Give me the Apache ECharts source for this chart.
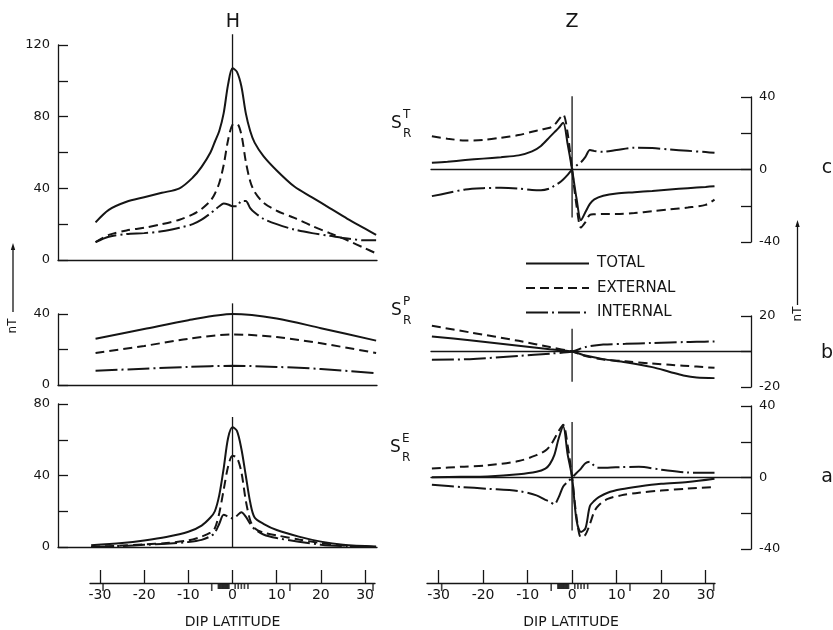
<!DOCTYPE html>
<html>
<head>
<meta charset="utf-8">
<script src="https://cdn.jsdelivr.net/npm/echarts@6/dist/echarts.min.js"></script>
<style>
html, body { margin: 0; padding: 0; background: #fff; }
#chart { width: 833px; height: 630px; }
</style>
</head>
<body>
<div id="chart"></div>
<script>
// ---- data (nT against dip latitude, degrees) ----
// H component, S_R^T
const latTL = [-31, -28, -24, -20, -16, -12, -9, -7, -5, -4, -3, -2, -1, 0, 1, 2, 3, 4, 5, 7, 10, 14, 18, 22, 26, 30, 32.5];
const totTL = [21, 28, 32.5, 35, 37.5, 40, 46, 52, 60, 66, 72, 82, 98, 107, 105, 97, 82, 72, 65.5, 58, 50, 41, 35, 29, 23, 17.5, 14];
const extTL = [10, 14, 16.5, 18, 20, 22.5, 25.5, 28.5, 33, 37, 43, 53, 67, 75.5, 76, 70, 55, 44, 38, 32, 27.5, 23.5, 19, 15, 11, 6.5, 3.7];
const intTL = [10, 13, 14.5, 15, 16, 18, 20, 22.5, 26, 28, 30, 31.5, 31, 30, 30, 33, 33, 29, 26.5, 23, 20, 17, 15, 13.5, 12, 11, 11];
// H component, S_R^P
const latML = [-31, -20, -10, 0, 10, 20, 32.5];
const totML = [26, 31.5, 36.5, 40, 37.5, 32, 25];
const extML = [18, 22, 26, 28.5, 27, 23.5, 18];
const intML = [8, 9.2, 10.2, 10.8, 10.2, 9, 6.6];
// H component, S_R^E
const latBL = [-32, -25, -20, -15, -10, -7, -5, -4, -3, -2, -1, 0, 1, 2, 3, 4, 5, 7, 10, 15, 20, 25, 32.5];
const totBL = [1, 2.3, 3.7, 5.6, 8.5, 12, 16.5, 20, 29, 44, 61, 67, 65, 55, 40, 25, 16.5, 13, 9.5, 5.8, 3, 1.3, 0.3];
const extBL = [0, 0.8, 1.4, 2.2, 3.7, 5.8, 8, 10.5, 19, 32, 45, 51, 50, 42, 26, 15, 10.5, 8, 6.5, 4.2, 2.2, 0.8, 0];
const intBL = [0, 0.6, 1.2, 1.8, 2.8, 4, 6, 8, 13, 18, 17, 16, 17.5, 19.5, 17, 13, 10, 7, 5, 3, 1.3, 0.5, 0];
// Z component, S_R^T
const latTR = [-31.5, -28, -24, -20, -16, -12, -9, -7, -5, -4, -3, -2, -1, 0, 1, 2, 3, 4, 5, 7, 10, 14, 18, 22, 26, 30, 32];
const totTR = [3.7, 4.3, 5.2, 6, 6.8, 7.8, 10, 13, 18, 20.5, 23, 25.8, 14, 0, -16, -28, -23.5, -19, -16.5, -14.5, -13.2, -12.5, -11.8, -11, -10.3, -9.6, -9.2];
const extTR = [18.4, 17, 16, 16.3, 17.5, 19, 20.8, 22, 23, 24.5, 27.5, 30.3, 20, 0, -20, -32, -29, -25, -24.7, -24.5, -24.5, -24, -23, -22, -21, -19.5, -16.6];
const intTR = [-14.7, -13, -11, -10.3, -10.1, -10.5, -11.3, -11.5, -10.5, -9, -7.5, -5.5, -3, 0, 2.2, 4, 7, 10.7, 10.2, 9.8, 10.8, 12, 11.8, 11, 10.3, 9.6, 9.2];
// Z component, S_R^P
const latMR = [-31.5, -23, -12, -5, 0, 3, 7, 12, 18, 22, 25, 28, 32];
const totMR = [8.5, 6.3, 3.3, 1.3, 0, -2.3, -4.3, -6, -8.8, -11.5, -13.5, -14.7, -15];
const extMR = [14.5, 10.8, 6, 2.5, 0, -2.5, -4.5, -5.5, -6.8, -7.5, -8, -8.5, -9.2];
const intMR = [-4.7, -4.3, -2.5, -1.2, 0, 2.5, 3.9, 4.3, 4.8, 5.1, 5.3, 5.5, 5.6];
// Z component, S_R^E
const latBR = [-31.5, -25, -19, -12, -8, -6, -5, -4, -3, -2, -1, 0, 1, 2, 3, 4, 5, 6, 8, 11, 15, 20, 26, 32];
const totBR = [0.2, 0.4, 0.6, 1.8, 3.2, 5, 7.5, 12.5, 22, 28.5, 13, 0, -24, -30.5, -28.5, -16, -13, -11, -8.5, -6.6, -5, -3.5, -2.5, -0.7];
const extBR = [5, 6, 6.8, 9.2, 12.5, 15, 17.5, 21.5, 26, 29.5, 18, 0, -22, -33.5, -32, -26, -19, -15.5, -12, -10, -8.5, -7.3, -6.2, -5.4];
const intBR = [-4.1, -5.3, -6.3, -7.6, -10, -12.5, -13.5, -15, -11, -5, -2.5, 0, 2.5, 5, 8, 8.8, 6.5, 5.5, 5.5, 5.8, 6, 4.4, 2.8, 2.6];

// vertical line at dip equator, its extent in nT for each panel
const zeroSpan = [[126, 0], [46, 0], [72.7, 0], [40.4, -26.5], [12.8, -17], [31, -29.6]];

// tick labels
const labelsTL = [0, 40, 80, 120];
const labelsML = [0, 40];
const labelsBL = [0, 40, 80];
const labelsTR = [-40, 0, 40];
const labelsMR = [-20, 20];
const labelsBR = [-40, 0, 40];
const latTicks = [-30, -20, -10, 0, 10, 20, 30];
const lowMarks = [-29.3, -4.7, 13, 31.8];
const stationLat = [-3.2, -3.0, -2.8, -2.6, -2.4, -2.2, -2.0, -1.8, -1.6, -1.4, -1.2, -1.0, -0.8, 0.6, 1.3, 2.0, 2.7, 3.5];

const INK = '#151515';
const FONT = 'DejaVu Sans';
const DASH = { TOTAL: 'solid', EXTERNAL: [9, 5], INTERNAL: [22, 4, 2, 4] };

function zip(xs, ys) {
    return xs.map((x, i) => [x, ys[i]]);
}

function curve(name, lat, vals, gi) {
    return {
        name: name,
        type: 'line',
        xAxisIndex: gi,
        yAxisIndex: gi,
        data: zip(lat, vals),
        symbol: 'none',
        smooth: 0.3,
        clip: false,
        lineStyle: { color: INK, width: 2, type: DASH[name] },
        itemStyle: { color: INK, opacity: 0 },  // hides the legend dot
        z: 3
    };
}

function panel(gi, lat, tot, ext, int) {
    return [curve('TOTAL', lat, tot, gi), curve('EXTERNAL', lat, ext, gi), curve('INTERNAL', lat, int, gi)];
}

function yAx(gi, min, max, labels, side) {
    return {
        gridIndex: gi, type: 'value', min: min, max: max, interval: 20, position: side,
        axisLine: { show: true, onZero: false, lineStyle: { color: INK, width: 1.3 } },
        axisTick: { show: true, inside: true, length: 10, lineStyle: { color: INK, width: 1.3 } },
        axisLabel: {
            color: INK, fontSize: 13, fontFamily: FONT, margin: 8,
            formatter: v => labels.includes(v) ? String(v) : ''
        },
        splitLine: { show: false }
    };
}

function xAx(gi, min, max) {
    return {
        gridIndex: gi, type: 'value', min: min, max: max,
        axisLine: { show: true, onZero: true, lineStyle: { color: INK, width: 1.3 } },
        axisTick: { show: false }, axisLabel: { show: false }, splitLine: { show: false }
    };
}

function latAx(gi, min, max) {
    return {
        gridIndex: gi, type: 'value', min: min, max: max,
        name: 'DIP LATITUDE', nameLocation: 'middle', nameGap: 32,
        nameTextStyle: { color: INK, fontSize: 14, fontFamily: FONT },
        axisLine: { show: true, lineStyle: { color: INK, width: 1.3 } },
        axisTick: { show: true, inside: true, length: 13, customValues: latTicks, lineStyle: { color: INK, width: 1.3 } },
        axisLabel: { customValues: latTicks, color: INK, fontSize: 14, fontFamily: FONT, margin: 5 },
        splitLine: { show: false }
    };
}

function zeroLine(gi) {
    return {
        name: 'eq' + gi, type: 'line', xAxisIndex: gi, yAxisIndex: gi,
        data: [[0, zeroSpan[gi][0]], [0, zeroSpan[gi][1]]],
        symbol: 'none', clip: false, silent: true,
        lineStyle: { color: INK, width: 1.3 }, z: 2
    };
}

function ticksBelow(name, gi, xs, h) {
    return {
        name: name, type: 'scatter', xAxisIndex: gi, yAxisIndex: gi,
        data: xs.map(x => [x, 0]), symbol: 'rect', symbolSize: [1.6, h],
        symbolOffset: [0, h / 2], clip: false, silent: true,
        itemStyle: { color: INK }
    };
}

function sLabel(x, y, sup) {
    return [
        { type: 'text', left: x - 6, top: y - 10, style: { text: 'S', font: '17px ' + FONT, fill: INK } },
        { type: 'text', left: x + 6, top: y - 16, style: { text: sup, font: '12px ' + FONT, fill: INK } },
        { type: 'text', left: x + 6, top: y + 3, style: { text: 'R', font: '12px ' + FONT, fill: INK } }
    ];
}

function plainText(x, y, t, size) {
    return { type: 'text', x: x, y: y, style: { text: t, font: size + 'px ' + FONT, fill: INK, align: 'center', verticalAlign: 'middle' } };
}

function arrow(x, yTop, yBot, yText) {
    return [
        { type: 'line', shape: { x1: x, y1: yBot, x2: x, y2: yTop + 5 }, style: { stroke: INK, lineWidth: 1.3 } },
        { type: 'polygon', shape: { points: [[x, yTop], [x - 2.2, yTop + 7], [x + 2.2, yTop + 7]] }, style: { fill: INK } },
        { type: 'text', x: x, y: yText, rotation: Math.PI / 2,
          style: { text: 'nT', font: '12px ' + FONT, fill: INK, align: 'center', verticalAlign: 'middle' } }
    ];
}

const chart = echarts.init(document.getElementById('chart'), null, { renderer: 'canvas' });

const series = [].concat(
    panel(0, latTL, totTL, extTL, intTL),
    panel(1, latML, totML, extML, intML),
    panel(2, latBL, totBL, extBL, intBL),
    panel(3, latTR, totTR, extTR, intTR),
    panel(4, latMR, totMR, extMR, intMR),
    panel(5, latBR, totBR, extBR, intBR),
    [0, 1, 2, 3, 4, 5].map(zeroLine),
    [ticksBelow('stL', 6, stationLat, 6), ticksBelow('lowL', 6, lowMarks, 8),
     ticksBelow('stR', 7, stationLat, 6), ticksBelow('lowR', 7, lowMarks, 8)]
);

chart.setOption({
    backgroundColor: '#fff',
    animation: false,
    textStyle: { fontFamily: FONT },
    legend: {
        data: ['TOTAL', 'EXTERNAL', 'INTERNAL'],
        orient: 'vertical', left: 520, top: 251,
        itemWidth: 63, itemHeight: 14, itemGap: 9.5,
        selectedMode: false,
        itemStyle: { opacity: 0 },
        textStyle: { color: INK, fontSize: 15, fontFamily: FONT, padding: [0, 0, 0, 3] }
    },
    grid: [
        { left: 58, top: 45, width: 319, height: 215 },
        { left: 58, top: 314, width: 319, height: 71 },
        { left: 58, top: 404, width: 319, height: 143 },
        { left: 431, top: 97, width: 320, height: 145 },
        { left: 431, top: 316, width: 320, height: 71 },
        { left: 431, top: 406, width: 320, height: 143 },
        { left: 90, top: 560, width: 285, height: 23.5 },
        { left: 427, top: 560, width: 288, height: 24 }
    ],
    xAxis: [
        xAx(0, -39.5, 32.7), xAx(1, -39.5, 32.7), xAx(2, -39.5, 32.7),
        xAx(3, -31.7, 40.2), xAx(4, -31.7, 40.2), xAx(5, -31.7, 40.2),
        latAx(6, -32.25, 32.25), latAx(7, -32.6, 32.1)
    ],
    yAxis: [
        yAx(0, 0, 120, labelsTL, 'left'),
        yAx(1, 0, 40, labelsML, 'left'),
        yAx(2, 0, 80, labelsBL, 'left'),
        yAx(3, -40, 40, labelsTR, 'right'),
        yAx(4, -20, 20, labelsMR, 'right'),
        yAx(5, -40, 40, labelsBR, 'right'),
        { gridIndex: 6, type: 'value', min: 0, max: 1, show: false },
        { gridIndex: 7, type: 'value', min: 0, max: 1, show: false }
    ],
    series: series,
    graphic: [].concat(
        [plainText(233, 22, 'H', 19), plainText(572, 22, 'Z', 19),
         plainText(827, 168, 'c', 19), plainText(827, 353, 'b', 19), plainText(827, 477, 'a', 19)],
        sLabel(397, 125, 'T'),
        sLabel(397, 312, 'P'),
        sLabel(396, 449, 'E'),
        arrow(13, 243, 312, 326),
        arrow(797.5, 220, 305, 314)
    )
});
</script>
</body>
</html>
